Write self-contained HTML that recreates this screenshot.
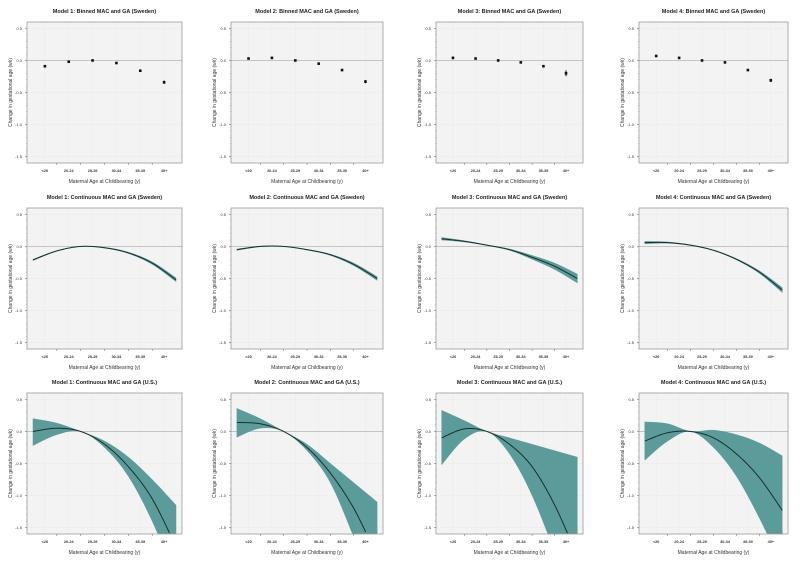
<!DOCTYPE html>
<html><head><meta charset="utf-8"><style>
html,body{margin:0;padding:0;width:800px;height:563px;overflow:hidden;background:#fff;font-family:"Liberation Sans",sans-serif}
svg{display:block}
</style></head><body>
<svg id="c" width="800" height="563" xmlns="http://www.w3.org/2000/svg"></svg>
<script>
// ---- data ----
const categories = ["<20","20-24","25-29","30-34","35-39","40+"];
const yTicks = [0.5, 0.0, -0.5, -1.0, -1.5];
const yTickLabels = ["0.5","0.0","-0.5","-1.0","-1.5"];
const curveX = [-0.5, 0.5, 1.5, 2.5, 3.5, 4.5, 5.5];
// Row 1: binned estimates
const binned1 = [-0.09, -0.02, 0.0, -0.04, -0.16, -0.34];
const binned2 = [0.03, 0.04, 0.0, -0.05, -0.15, -0.33];
const binned3 = [0.04, 0.03, 0.0, -0.03, -0.09, -0.2];
const binned4 = [0.07, 0.04, 0.0, -0.03, -0.15, -0.31];
const binnedErr3 = [0.02, 0.01, 0.0, 0.01, 0.015, 0.045];
const binnedErr = [0.012, 0.008, 0.0, 0.008, 0.012, 0.025];
// Row 2: Sweden continuous
const swe1 = [-0.21, -0.07, 0.0, -0.02, -0.1, -0.26, -0.52];
const swe1Lo = [-0.22, -0.075, 0.0, -0.025, -0.11, -0.28, -0.55];
const swe1Hi = [-0.2, -0.065, 0.0, -0.015, -0.09, -0.24, -0.49];
const swe2 = [-0.05, 0.0, 0.0, -0.05, -0.13, -0.28, -0.5];
const swe2Lo = [-0.06, -0.005, 0.0, -0.055, -0.14, -0.3, -0.53];
const swe2Hi = [-0.04, 0.005, 0.0, -0.045, -0.12, -0.26, -0.47];
const swe3 = [0.12, 0.08, 0.02, -0.05, -0.17, -0.31, -0.5];
const swe3Lo = [0.1, 0.07, 0.015, -0.06, -0.2, -0.36, -0.57];
const swe3Hi = [0.14, 0.09, 0.025, -0.04, -0.14, -0.26, -0.43];
const swe4 = [0.06, 0.06, 0.02, -0.06, -0.2, -0.4, -0.68];
const swe4Lo = [0.04, 0.05, 0.015, -0.065, -0.21, -0.42, -0.72];
const swe4Hi = [0.08, 0.07, 0.025, -0.055, -0.19, -0.38, -0.64];
// Row 3: U.S. continuous
const us1 = [0.0, 0.05, 0.0, -0.2, -0.55, -1.05, -1.8];
const us1Lo = [-0.22, -0.05, 0.0, -0.25, -0.7, -1.4, -2.3];
const us1Hi = [0.2, 0.13, 0.0, -0.15, -0.4, -0.75, -1.15];
const us2 = [0.14, 0.12, 0.0, -0.25, -0.65, -1.2, -1.95];
const us2Lo = [-0.09, 0.05, 0.0, -0.3, -0.8, -1.65, -2.6];
const us2Hi = [0.36, 0.2, 0.0, -0.2, -0.5, -0.8, -1.1];
const us3 = [-0.1, 0.04, 0.0, -0.2, -0.55, -1.15, -1.95];
const us3Lo = [-0.52, -0.12, 0.0, -0.35, -1.0, -1.9, -3.0];
const us3Hi = [0.33, 0.17, 0.0, -0.1, -0.2, -0.3, -0.4];
const us4 = [-0.15, -0.02, 0.0, -0.1, -0.35, -0.72, -1.23];
const us4Lo = [-0.45, -0.15, 0.0, -0.25, -0.7, -1.35, -2.1];
const us4Hi = [0.15, 0.12, 0.0, 0.02, -0.05, -0.18, -0.38];

const NS = "http://www.w3.org/2000/svg";
const svg = document.getElementById('c');
function mk(tag, attrs, parent){const e=document.createElementNS(NS,tag);for(const k in attrs)e.setAttribute(k,attrs[k]);(parent||svg).appendChild(e);return e;}

const colLeft=[27,231,436,639], colRight=[182,383,583,788];
const rowTop=[22,208,393], plotH=141;
const Y0=0.6, Y1=-1.6, X0=-0.75, X1=5.75;
const TEAL="#5b9c9a", LINE="#16302f";

// dense sampling of a Catmull-Rom spline, clamped to [yMin,yMax]
function splinePts(pts, yMin, yMax){
  const out=[];
  for(let i=0;i<pts.length-1;i++){
    const p0=pts[Math.max(0,i-1)],p1=pts[i],p2=pts[i+1],p3=pts[Math.min(pts.length-1,i+2)];
    const c1=[p1[0]+(p2[0]-p0[0])/6,p1[1]+(p2[1]-p0[1])/6];
    const c2=[p2[0]-(p3[0]-p1[0])/6,p2[1]-(p3[1]-p1[1])/6];
    for(let s=0;s<20;s++){
      const t=s/20,u=1-t;
      const x=u*u*u*p1[0]+3*u*u*t*c1[0]+3*u*t*t*c2[0]+t*t*t*p2[0];
      const y=u*u*u*p1[1]+3*u*u*t*c1[1]+3*u*t*t*c2[1]+t*t*t*p2[1];
      out.push([x,Math.min(yMax,Math.max(yMin,y))]);
    }
  }
  const last=pts[pts.length-1];
  out.push([last[0],Math.min(yMax,Math.max(yMin,last[1]))]);
  return out;
}
function toD(arr){return arr.map((p,i)=>(i?"L":"M")+p[0].toFixed(2)+","+p[1].toFixed(2)).join(" ");}

const titles=[
 ["Model 1: Binned MAC and GA (Sweden)","Model 2: Binned MAC and GA (Sweden)","Model 3: Binned MAC and GA (Sweden)","Model 4: Binned MAC and GA (Sweden)"],
 ["Model 1: Continuous MAC and GA (Sweden)","Model 2: Continuous MAC and GA (Sweden)","Model 3: Continuous MAC and GA (Sweden)","Model 4: Continuous MAC and GA (Sweden)"],
 ["Model 1: Continuous MAC and GA (U.S.)","Model 2: Continuous MAC and GA (U.S.)","Model 3: Continuous MAC and GA (U.S.)","Model 4: Continuous MAC and GA (U.S.)"]];
const binned=[binned1,binned2,binned3,binned4];
const cont=[[[swe1,swe1Lo,swe1Hi],[swe2,swe2Lo,swe2Hi],[swe3,swe3Lo,swe3Hi],[swe4,swe4Lo,swe4Hi]],
            [[us1,us1Lo,us1Hi],[us2,us2Lo,us2Hi],[us3,us3Lo,us3Hi],[us4,us4Lo,us4Hi]]];

for(let r=0;r<3;r++)for(let c=0;c<4;c++){
  const L=colLeft[c],R=colRight[c],T=rowTop[r],B=T+plotH;
  const xs=v=>L+(v-X0)/(X1-X0)*(R-L);
  const ys=v=>T+(Y0-v)/(Y0-Y1)*plotH;
  const g=mk('g',{});
  
  
  const bg=mk('rect',{x:L,y:T,width:R-L,height:plotH,fill:"#f3f3f3",stroke:"none"},g);
  
  yTicks.forEach(v=>{mk('line',{x1:L,x2:R,y1:ys(v),y2:ys(v),stroke:"#e2e2e2","stroke-width":0.5,"stroke-dasharray":"1,1"},g);});
  categories.forEach((_,i)=>{mk('line',{x1:xs(i),x2:xs(i),y1:T,y2:B,stroke:"#e2e2e2","stroke-width":0.5,"stroke-dasharray":"1,1"},g);});
  const ref=mk('line',{x1:L,x2:R,y1:ys(0),y2:ys(0),stroke:"#aaa","stroke-width":0.7},g);
  
  if(r===0){
    const vals=binned[c], err=c===2?binnedErr3:binnedErr;
    vals.forEach((v,i)=>{
      const eb=mk('line',{x1:xs(i),x2:xs(i),y1:ys(v+err[i]),y2:ys(v-err[i]),stroke:"#111","stroke-width":1},g);
      
      const p=mk('rect',{x:xs(i)-1.3,y:ys(v)-1.3,width:2.6,height:2.6,fill:"#111"},g);
      
    });
  } else {
    const [mid,lo,hi]=cont[r-1][c];
    const hiP=splinePts(curveX.map((x,i)=>[xs(x),ys(hi[i])]),T,B);
    const loP=splinePts(curveX.map((x,i)=>[xs(x),ys(lo[i])]),T,B).reverse();
    const band=mk('path',{d:toD(hiP.concat(loP))+" Z",fill:TEAL,stroke:TEAL,"stroke-width":0.4},g);
    
    const mp=splinePts(curveX.map((x,i)=>[xs(x),ys(mid[i])]),T-5,B+5).filter(p=>p[1]<=B);
    const ln=mk('path',{d:toD(mp),fill:"none",stroke:LINE,"stroke-width":1},g);
    
  }
  const fr=mk('rect',{x:L,y:T,width:R-L,height:plotH,fill:"none",stroke:"#9a9a9a","stroke-width":0.8},g);
  
  yTicks.forEach((v,i)=>{
    mk('line',{x1:L-2,x2:L,y1:ys(v),y2:ys(v),stroke:"#666","stroke-width":0.5},g);
    const t=mk('text',{x:L-5,y:ys(v)+1.5,"font-size":4,"text-anchor":"end",fill:"#333"},g);t.textContent=yTickLabels[i];
    
  });
  for(let v=-1.5;v<=0.5;v+=0.1){mk('line',{x1:L-1,x2:L,y1:ys(v),y2:ys(v),stroke:"#888","stroke-width":0.4},g);}
  for(let i=0;i<5;i++){mk('line',{x1:xs(i+0.5),x2:xs(i+0.5),y1:B,y2:B+2,stroke:"#666","stroke-width":0.5},g);}
  categories.forEach((cat,i)=>{
    const t=mk('text',{x:xs(i),y:B+9,"font-size":3.8,"text-anchor":"middle",fill:"#333","font-weight":"bold"},g);t.textContent=cat;
    
  });
  const xl=mk('text',{x:(L+R)/2,y:B+20,"font-size":5,"text-anchor":"middle",fill:"#333"},g);xl.textContent="Maternal Age at Childbearing (y)";
  
  const yl=mk('text',{x:0,y:0,"font-size":5,"text-anchor":"middle",fill:"#333",transform:`translate(${L-15},${ys(-0.5)}) rotate(-90)`},g);yl.textContent="Change in gestational age (wk)";
  
  const ti=mk('text',{x:(L+R)/2,y:T-9,"font-size":5.5,"font-weight":"bold","text-anchor":"middle",fill:"#222"},g);ti.textContent=titles[r][c];
  
}
</script>
</body></html>
